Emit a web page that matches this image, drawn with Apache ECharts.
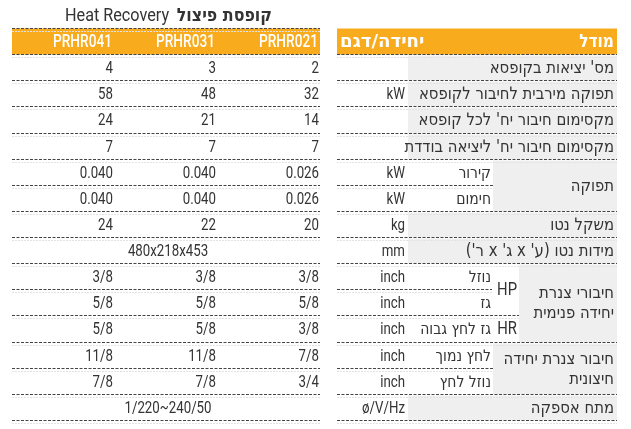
<!DOCTYPE html>
<html>
<head>
<meta charset="utf-8">
<script src="https://cdn.jsdelivr.net/npm/echarts@6/dist/echarts.min.js"></script>
<style>
  html, body { margin: 0; padding: 0; background: #fff; }
  #chart { width: 631px; height: 429px; }
</style>
</head>
<body>
<div id="chart"></div>
<script>
// table data
var models = ["PRHR021", "PRHR031", "PRHR041"];
var labels = [
  "מס' יציאות בקופסא",
  "תפוקה מירבית לחיבור לקופסא",
  "מקסימום חיבור יח' לכל קופסא",
  "מקסימום חיבור יח' ליציאה בודדת",
  "תפוקה", "תפוקה",
  "משקל נטו",
  "מידות נטו (ע' x ג' x ר')",
  "חיבורי צנרת\nיחידה פנימית", "חיבורי צנרת\nיחידה פנימית", "חיבורי צנרת\nיחידה פנימית",
  "חיבור צנרת יחידה\nחיצונית", "חיבור צנרת יחידה\nחיצונית",
  "מתח אספקה"
];
var subLabels = ["", "", "", "", "קירור", "חימום", "", "", "נוזל", "גז", "גז לחץ גבוה", "לחץ נמוך", "נוזל לחץ", ""];
var tags = ["", "", "", "", "", "", "", "", "HP", "HP", "HR", "", "", ""];
var units = ["", "kW", "", "", "kW", "kW", "kg", "mm", "inch", "inch", "inch", "inch", "inch", "ø/V/Hz"];
var valuesPRHR021 = ["2", "32", "14", "7", "0.026", "0.026", "20", "480x218x453", "3/8", "5/8", "3/8", "7/8", "3/4", "1/220~240/50"];
var valuesPRHR031 = ["3", "48", "21", "7", "0.040", "0.040", "22", "480x218x453", "3/8", "5/8", "5/8", "11/8", "7/8", "1/220~240/50"];
var valuesPRHR041 = ["4", "58", "24", "7", "0.040", "0.040", "24", "480x218x453", "3/8", "5/8", "5/8", "11/8", "7/8", "1/220~240/50"];
var mergedRows = [false, false, false, false, false, false, false, true, false, false, false, false, false, true];
var titleLatin = "Heat Recovery";
var titleHebrew = "קופסת פיצול";
var headLeft = "יחידה/דגם";
var headRight = "מודל";

var values = [valuesPRHR021, valuesPRHR031, valuesPRHR041];

// layout (pixels on a hidden 0..631 x axis)
var L0 = 12, L1 = 320, R0 = 337, R1 = 617;
var valRight = [319, 216, 113];
var unitRight = 405, labelStart = 408, subRight = 491, tagRight = 517;
var groupStart = { 4: 493, 8: 519, 11: 493 };
var orange = "#f9ab1e", grayBg = "#efefef", ink = "#333333";
var LATIN = "Roboto, 'DejaVu Sans Condensed', sans-serif";
var HEB = "'DejaVu Sans Condensed', 'DejaVu Sans', sans-serif";

function rtl(s) { return s.split("\n").map(function (t) { return "\u202B" + t + "\u202C"; }).join("\n"); }

function spanOf(arr, i) {
  if (!arr[i]) return 0;
  if (i > 0 && arr[i - 1] === arr[i]) return 0;
  var n = 1;
  while (i + n < arr.length && arr[i + n] === arr[i]) n++;
  return n;
}
function firstOf(arr, i) { while (i > 0 && arr[i - 1] === arr[i]) i--; return i; }

// latin text is squeezed to look like the condensed face of the original
function txt(x, y, s, align, opts) {
  opts = opts || {};
  var heb = !!opts.heb;
  return {
    type: "text", z2: 10,
    x: x, y: y,
    scaleX: opts.scale || (heb ? 0.97 : 0.78),
    style: {
      x: 0, y: 0, text: heb ? rtl(s) : s, align: align, verticalAlign: "middle",
      fill: opts.fill || ink, fontSize: opts.size || 17,
      fontWeight: opts.weight || "normal", fontFamily: heb ? HEB : LATIN,
      lineHeight: opts.lineHeight || 20
    }
  };
}
function dash(x0, x1, y) {
  return [
    { type: "line", z2: 5, shape: { x1: x0, y1: y + 3, x2: x1, y2: y + 3 }, style: { stroke: "#e3e3e3", lineWidth: 1, lineDash: [2, 1] } },
    { type: "line", z2: 6, shape: { x1: x0, y1: y, x2: x1, y2: y }, style: { stroke: "#444", lineWidth: 1, lineDash: [3, 1.5] } }
  ];
}

var rowIndex = [-1];
for (var k = 0; k < labels.length; k++) rowIndex.push(k);

function renderItem(params, api) {
  var r = rowIndex[params.dataIndex];
  var px = function (x) { return api.coord([x, 0])[0]; };
  var top = Math.round(api.coord([0, r])[1]) + 0.5;
  var bottom = Math.round(api.coord([0, r + 1])[1]) + 0.5;
  var mid = (top + bottom) / 2;
  var ch = [];

  if (r === -1) {
    ch.push(txt(px(65), top - 12, titleLatin, "left", { size: 18, scale: 0.9 }));
    ch.push(txt(px(272), top - 12, titleHebrew, "right", { heb: true, size: 18, weight: "bold", scale: 0.98 }));
    ch.push({ type: "rect", shape: { x: px(L0), y: top, width: px(L1) - px(L0), height: bottom - top }, style: { fill: orange } });
    ch.push({ type: "rect", shape: { x: px(R0), y: top, width: px(R1) - px(R0), height: bottom - top }, style: { fill: orange } });
    ch = ch.concat(dash(px(L0), px(L1), top), dash(px(L0), px(L1), bottom), dash(px(R0), px(R1), bottom));
    models.forEach(function (m, i) { ch.push(txt(px(valRight[i] - 1), mid + 1, m, "right", { fill: "#fff", size: 18, weight: 500, scale: 0.76 })); });
    ch.push(txt(px(R0 + 3), mid + 1, headLeft, "left", { heb: true, fill: "#fff", weight: "bold", size: 18, scale: 1.12 }));
    ch.push(txt(px(R1 - 3), mid + 1, headRight, "right", { heb: true, fill: "#fff", weight: "bold", size: 18, scale: 0.95 }));
    return { type: "group", children: ch };
  }

  // label cell (group cells are drawn on their first row)
  var gs = spanOf(labels, r);
  if (gs > 0) {
    var gx = gs > 1 ? groupStart[r] : labelStart;
    var gBottom = Math.round(api.coord([0, r + gs])[1]) + 0.5;
    ch.push({ type: "rect", shape: { x: px(gx), y: top + 1, width: px(R1) - px(gx), height: gBottom - top - 1 }, style: { fill: grayBg } });
    ch.push(txt(px(R1 - 3), (top + gBottom) / 2 + 1, labels[r], "right", { heb: true }));
  }
  if (subLabels[r]) ch.push(txt(px(subRight), mid + 1, subLabels[r], "right", { heb: true, size: 16 }));
  var ts = spanOf(tags, r);
  if (ts > 0) {
    var tBottom = api.coord([0, r + ts])[1];
    ch.push(txt(px(tagRight), (top + tBottom) / 2 + 1, tags[r], "right", { size: 19, scale: 0.78 }));
  }
  if (units[r]) ch.push(txt(px(unitRight), mid + 1, units[r], "right"));

  if (mergedRows[r]) {
    ch.push(txt(px((L0 + L1) / 2 + 2), mid + 1, values[0][r], "center"));
  } else {
    values.forEach(function (vals, i) { ch.push(txt(px(valRight[i]), mid + 1, vals[r], "right")); });
  }

  // bottom rules
  var end = R1;
  if (r + 1 < labels.length && labels[r + 1] === labels[r]) {
    end = (tags[r] && tags[r + 1] === tags[r]) ? 492 : groupStart[firstOf(labels, r)];
  }
  ch = ch.concat(dash(px(L0), px(L1), bottom), dash(px(R0), px(end), bottom));
  return { type: "group", children: ch };
}

var chart = echarts.init(document.getElementById("chart"), null, { renderer: "canvas" });
var option = {
  backgroundColor: "#fff",
  animation: false,
  grid: { left: 0, right: 0, top: 28, bottom: 9 },
  xAxis: { type: "value", min: 0, max: 631, show: false },
  yAxis: { type: "value", min: -1, max: labels.length, inverse: true, show: false },
  series: [{
    type: "custom",
    clip: false,
    renderItem: renderItem,
    data: rowIndex.map(function (r) { return [0, r]; })
  }]
};
chart.setOption(option);
</script>
</body>
</html>
